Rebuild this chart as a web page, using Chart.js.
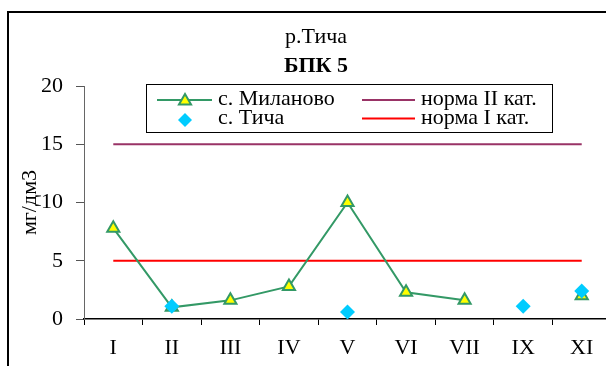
<!DOCTYPE html>
<html>
<head>
<meta charset="utf-8">
<script src="https://cdn.jsdelivr.net/npm/chart.js@4"></script>
<style>
  html, body { margin:0; padding:0; width:606px; height:366px; overflow:hidden; background:#fff; }
  #frame { position:absolute; left:7px; top:11px; width:700px; height:500px; border-top:2px solid #000; border-left:2px solid #000; }
  #c { position:absolute; left:0; top:0; }
</style>
</head>
<body>
<div id="frame"></div>
<canvas id="c" width="620" height="366" style="width:620px;height:366px"></canvas>
<script>
const months = ['I','II','III','IV','V','VI','VII','IX','XI'];
const milanovo = [7.8, 1.0, 1.6, 2.8, 10.0, 2.3, 1.6, null, 2.0];
const ticha = [null, 1.1, null, null, 0.6, null, null, 1.1, 2.4];
const normII = [15, 15, 15, 15, 15, 15, 15, 15, 15];
const normI = [5, 5, 5, 5, 5, 5, 5, 5, 5];
const yTicks = [0, 5, 10, 15, 20];
const titleText = 'р.Тича';
const subtitleText = 'БПК 5';
const yTitle = 'мг/дм3';
const names = ['с. Миланово', 'с. Тича', 'норма II кат.', 'норма I кат.'];

const SERIF = '"Liberation Serif", "Times New Roman", serif';
const GREEN = 'rgb(51,153,102)';
const CYAN = 'rgb(0,204,255)';
const PURPLE = 'rgb(153,51,102)';
const RED = 'rgb(255,0,0)';

const overlay = {
  id: 'overlay',
  afterDraw(chart) {
    const ctx = chart.ctx;
    ctx.save();
    ctx.fillStyle = '#000';
    ctx.textAlign = 'center';
    ctx.textBaseline = 'alphabetic';
    ctx.font = '22px ' + SERIF;
    ctx.fillText(titleText, 316, 43);
    ctx.font = 'bold 22px ' + SERIF;
    ctx.fillText(subtitleText, 316, 71.5);

    // legend box
    ctx.fillStyle = '#fff';
    ctx.fillRect(146, 84, 406, 48.5);
    ctx.strokeStyle = '#000';
    ctx.lineWidth = 1;
    ctx.strokeRect(146.5, 84.5, 406, 48);

    // row 1 col 1: line + triangle
    ctx.strokeStyle = GREEN; ctx.lineWidth = 2;
    ctx.beginPath(); ctx.moveTo(157, 100); ctx.lineTo(212, 100); ctx.stroke();
    ctx.fillStyle = '#ff0'; ctx.strokeStyle = GREEN; ctx.lineWidth = 2;
    ctx.beginPath();
    const r = 7;
    ctx.moveTo(185, 101 - r);
    ctx.lineTo(185 + r*Math.sin(Math.PI*2/3), 101 + r/2);
    ctx.lineTo(185 - r*Math.sin(Math.PI*2/3), 101 + r/2);
    ctx.closePath(); ctx.fill(); ctx.stroke();
    // row 2 col 1: diamond
    ctx.fillStyle = CYAN;
    ctx.beginPath();
    ctx.moveTo(185, 113); ctx.lineTo(192, 120); ctx.lineTo(185, 127); ctx.lineTo(178, 120);
    ctx.closePath(); ctx.fill();
    // col 2 lines
    ctx.strokeStyle = PURPLE; ctx.lineWidth = 2;
    ctx.beginPath(); ctx.moveTo(362, 100); ctx.lineTo(415, 100); ctx.stroke();
    ctx.strokeStyle = RED;
    ctx.beginPath(); ctx.moveTo(362, 118.5); ctx.lineTo(415, 118.5); ctx.stroke();

    ctx.fillStyle = '#000';
    ctx.textAlign = 'left';
    ctx.font = '22px ' + SERIF;
    ctx.fillText(names[0], 218, 105);
    ctx.fillText(names[1], 218, 124);
    ctx.fillText(names[2], 421, 105);
    ctx.fillText(names[3], 421, 124);
    ctx.restore();
  }
};

new Chart(document.getElementById('c'), {
  type: 'line',
  data: {
    labels: months,
    datasets: [
      { label: names[1], data: ticha, showLine: false, pointStyle: 'rectRot', pointRadius: 7.5,
        pointBackgroundColor: CYAN, pointBorderColor: CYAN, pointBorderWidth: 0, borderColor: CYAN, backgroundColor: CYAN },
      { label: names[0], data: milanovo, borderColor: GREEN, borderWidth: 2, tension: 0, spanGaps: false,
        pointStyle: 'triangle', pointRadius: 7, pointBackgroundColor: '#ffff00', pointBorderColor: GREEN, pointBorderWidth: 2 },
      { label: names[2], data: normII, borderColor: PURPLE, borderWidth: 2, pointRadius: 0, tension: 0 },
      { label: names[3], data: normI, borderColor: RED, borderWidth: 2, pointRadius: 0, tension: 0 }
    ]
  },
  options: {
    responsive: false,
    animation: false,
    devicePixelRatio: 1,
    layout: { padding: { top: 86, right: 9, left: 0, bottom: 0 } },
    plugins: { legend: { display: false }, title: { display: false }, tooltip: { enabled: false } },
    scales: {
      x: {
        type: 'category',
        offset: true,
        grid: { offset: true, drawOnChartArea: false, drawTicks: true, tickLength: 6, color: '#000', lineWidth: 1 },
        border: { display: true, color: '#000', width: 1.5 },
        ticks: { color: '#000', font: { family: SERIF, size: 22 }, padding: 10, maxRotation: 0, autoSkip: false },
        afterFit: s => { s.height = 47; }
      },
      y: {
        min: 0, max: 20,
        afterBuildTicks: s => { s.ticks = yTicks.map(v => ({ value: v })); },
        grid: { drawOnChartArea: false, drawTicks: true, tickLength: 8, color: '#555', lineWidth: 1 },
        border: { display: true, color: '#666', width: 1 },
        ticks: { color: '#000', font: { family: SERIF, size: 22 }, padding: 13 },
        title: { display: true, text: yTitle, color: '#000', font: { family: SERIF, size: 22 }, padding: { top: 17, bottom: 0 } },
        afterFit: s => { s.width = 84; }
      }
    }
  },
  plugins: [overlay]
});
</script>
</body>
</html>
